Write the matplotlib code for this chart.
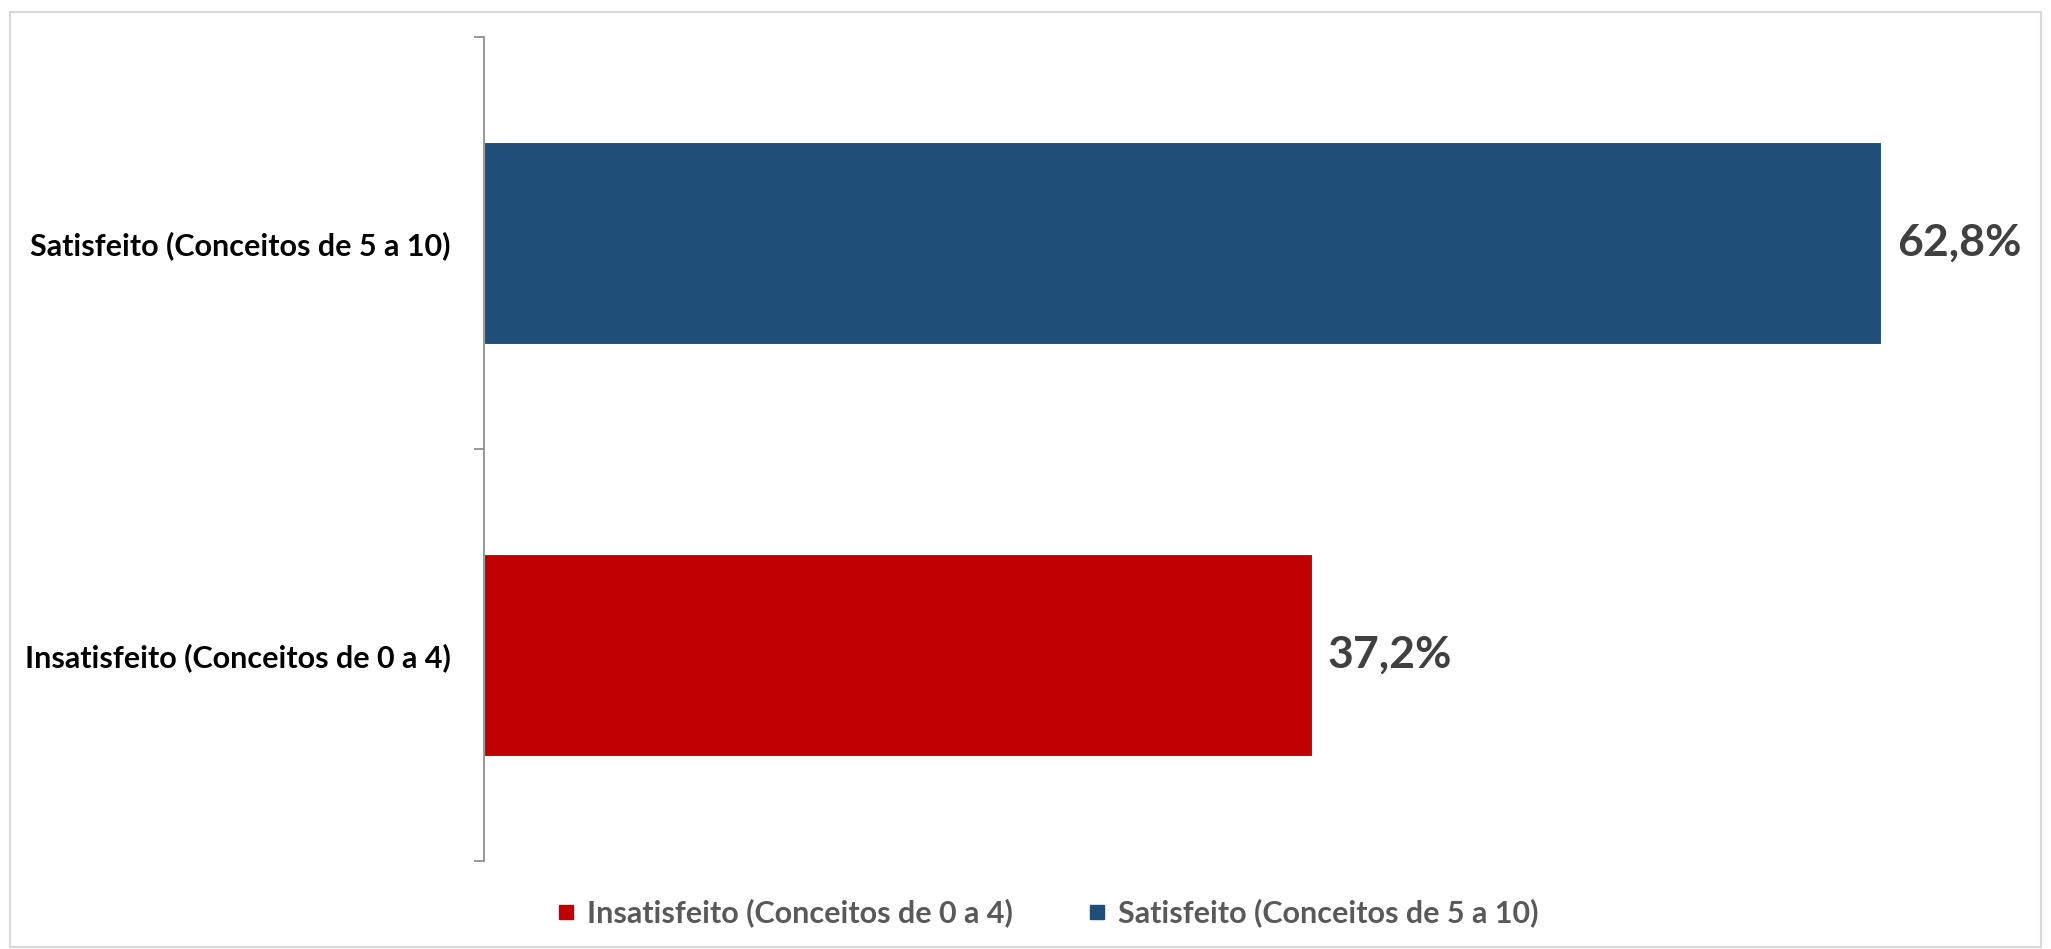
import matplotlib
matplotlib.use("Agg")
import matplotlib.pyplot as plt
from matplotlib.lines import Line2D
from matplotlib.patches import Rectangle

# dados
categorias = ['Insatisfeito (Conceitos de 0 a 4)', 'Satisfeito (Conceitos de 5 a 10)']
valores = [37.2, 62.8]
rotulos = ['37,2%', '62,8%']
cores = ['#C00000', '#1F4E79']

plt.rcParams['font.family'] = ['Lato', 'DejaVu Sans']

fig = plt.figure(figsize=(20.51, 9.49), dpi=100)
ax = fig.add_axes([484/2051, 88/949, 1557.5/2051, 824/949])

pos = list(range(len(categorias)))
ax.barh(pos, valores, height=0.49, color=cores, edgecolor='white', linewidth=0.8)

for p, v, r in zip(pos, valores, rotulos):
    ax.annotate(r, xy=(v, p), xytext=(16, 0), textcoords='offset pixels',
                ha='left', va='center', fontsize=32, fontweight='bold', color='#404040')

ax.set_xlim(0, 70)
ax.set_ylim(-0.5, 1.5)
ax.set_xticks([])
ax.set_yticks([-0.5, 0.5, 1.5])
ax.set_yticklabels([])
ax.set_yticks(pos, minor=True)
ax.set_yticklabels(categorias, minor=True, fontsize=22, fontweight='bold', color='black')
ax.tick_params(axis='y', which='major', length=7, width=1.2, color='#868686')
ax.tick_params(axis='y', which='minor', length=0, pad=24)
for s in ['top', 'right', 'bottom']:
    ax.spines[s].set_visible(False)
ax.spines['left'].set_color('#868686')
ax.spines['left'].set_linewidth(1.2)

handles = [Line2D([], [], marker='s', linestyle='', markersize=10, color=c) for c in cores]
fig.legend(handles, categorias, loc='center', bbox_to_anchor=(1047/2051, 1 - 913/949),
           ncol=2, frameon=False, handlelength=0.7, handletextpad=0.35, columnspacing=2.4,
           prop={'size': 22, 'weight': 'bold'}, labelcolor='#595959')

fig.patches.append(Rectangle((10/2051, 2/949), 2031/2051, 935/949, transform=fig.transFigure,
                             fill=False, edgecolor='#D9D9D9', linewidth=1.5))

fig.savefig('out.png', dpi=100, facecolor='white')
